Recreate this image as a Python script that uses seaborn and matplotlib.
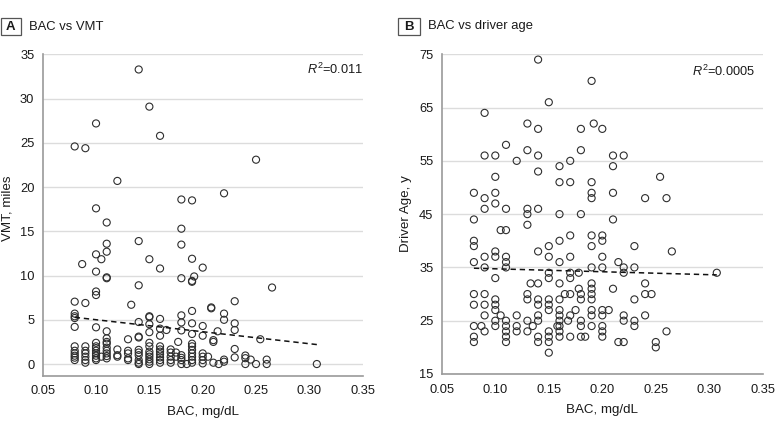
import matplotlib
matplotlib.use("Agg")
import matplotlib.pyplot as plt
from matplotlib.patches import Rectangle
import seaborn as sns

# ---------------- data ----------------
# Panel A: BAC (mg/dL) vs VMT (miles)
bac_a = ([0.08] * 12 + [0.087] + [0.09] * 8 + [0.10] * 15 + [0.105] * 2 +
         [0.11] * 14 + [0.12] * 4 + [0.13] * 5 + [0.133] + [0.14] * 12 +
         [0.15] * 14 + [0.16] * 12 + [0.166] + [0.17] * 5 + [0.175] * 2 +
         [0.177] + [0.18] * 11 + [0.185] + [0.19] * 14 + [0.192] +
         [0.20] * 7 + [0.205] + [0.208] * 2 + [0.21] * 3 + [0.214] + [0.215] +
         [0.22] * 5 + [0.23] * 5 + [0.24] * 3 + [0.245] + [0.25] * 2 +
         [0.254] + [0.26] * 2 + [0.265] + [0.307])
vmt_a = ([24.6, 7.05, 5.7, 5.4, 5.2, 4.2, 2.0, 1.5, 1.2, 0.94, 0.72, 0.45] +
         [11.3] +
         [24.4, 6.9, 2.0, 1.5, 1.2, 0.83, 0.45, 0.15] +
         [27.2, 17.6, 12.4, 10.45, 8.2, 7.8, 4.15, 2.4, 2.0, 1.8, 1.5, 1.2, 0.94, 0.64, 0.45] +
         [11.85, 0.83] +
         [16.0, 13.6, 12.7, 9.8, 9.7, 3.7, 2.9, 2.5, 2.3, 1.85, 1.5, 1.2, 0.9, 0.64] +
         [20.7, 1.65, 1.0, 0.83] +
         [2.8, 1.5, 1.2, 0.64, 0.45] +
         [6.7] +
         [33.3, 13.9, 8.9, 4.75, 3.1, 3.0, 1.6, 1.3, 1.0, 0.45, 0.15, 0.0] +
         [29.1, 11.85, 5.4, 5.3, 4.5, 3.6, 2.4, 2.0, 1.4, 1.1, 0.83, 0.53, 0.26, 0.0] +
         [25.8, 10.8, 5.1, 4.0, 3.2, 2.0, 1.65, 1.4, 1.1, 0.75, 0.45, 0.15] +
         [3.85] +
         [1.65, 1.3, 0.83, 0.45, 0.15] +
         [1.3, 0.83] +
         [2.5] +
         [18.6, 15.3, 13.5, 9.7, 5.5, 4.7, 3.8, 1.0, 0.7, 0.45, 0.0] +
         [0.0] +
         [18.5, 11.9, 9.4, 9.3, 6.0, 4.6, 3.4, 2.3, 2.0, 1.6, 1.2, 0.83, 0.45, 0.15] +
         [9.9] +
         [10.9, 4.3, 3.2, 1.2, 0.83, 0.45, 0.07] +
         [0.83] +
         [6.4, 6.3] +
         [2.7, 2.5, 0.15] +
         [3.7] +
         [0.0] +
         [19.3, 5.7, 5.0, 0.5, 0.26] +
         [7.1, 4.6, 3.85, 1.7, 0.75] +
         [0.96, 0.66, 0.0] +
         [0.5] +
         [23.1, 0.0] +
         [2.8] +
         [0.5, 0.0] +
         [8.65] +
         [0.0])

# Panel B: BAC (mg/dL) vs driver age (y)
bac_b = ([0.08] * 10 + [0.087] + [0.09] * 10 + [0.10] * 12 + [0.105] * 2 +
         [0.11] * 11 + [0.12] * 4 + [0.13] * 9 + [0.133] + [0.135] +
         [0.14] * 13 + [0.15] * 12 + [0.158] + [0.16] * 13 + [0.165] +
         [0.168] + [0.17] * 9 + [0.175] + [0.178] * 2 + [0.18] * 8 +
         [0.184] + [0.19] * 14 + [0.192] + [0.20] * 10 + [0.206] +
         [0.21] * 5 + [0.215] * 2 + [0.22] * 6 + [0.23] * 5 + [0.24] * 4 +
         [0.246] + [0.25] * 2 + [0.254] + [0.26] * 2 + [0.265] + [0.307])
age_b = ([49, 44, 40, 39, 36, 30, 28, 24, 22, 21] +
         [24] +
         [64, 56, 48, 46, 37, 35, 30, 28, 26, 23] +
         [56, 52, 49, 47, 38, 37, 33, 29, 28, 27, 25, 24] +
         [42, 26] +
         [58, 46, 42, 37, 36, 35, 25, 24, 23, 22, 21] +
         [55, 26, 24, 23] +
         [62, 57, 46, 45, 43, 30, 29, 25, 23] +
         [32] +
         [24] +
         [74, 61, 56, 53, 46, 38, 32, 29, 28, 26, 25, 22, 21] +
         [66, 39, 37, 34, 33, 29, 28, 27, 23, 22, 21, 19] +
         [24] +
         [54, 51, 45, 40, 36, 32, 29, 27, 26, 25, 24, 23, 22] +
         [30] +
         [25] +
         [55, 51, 41, 37, 34, 33, 30, 26, 22] +
         [27] +
         [34, 31] +
         [61, 57, 45, 30, 29, 25, 24, 22] +
         [22] +
         [70, 51, 49, 48, 41, 39, 35, 32, 31, 30, 29, 27, 26, 24] +
         [62] +
         [61, 41, 40, 37, 35, 27, 26, 24, 23, 22] +
         [27] +
         [56, 54, 49, 44, 31] +
         [36, 21] +
         [56, 35, 34, 26, 25, 21] +
         [39, 35, 29, 25, 24] +
         [48, 32, 30, 26] +
         [30] +
         [21, 20] +
         [52] +
         [48, 23] +
         [38] +
         [34])

# fitted trend lines (end points)
trend_x = [0.08, 0.307]
trend_a_y = [5.28, 2.2]
trend_b_y = [34.85, 33.6]

x_ticks = [0.05, 0.10, 0.15, 0.20, 0.25, 0.30, 0.35]
x_tick_labels = ["0.05", "0.10", "0.15", "0.20", "0.25", "0.30", "0.35"]
y_ticks_a = [0, 5, 10, 15, 20, 25, 30, 35]
y_ticks_b = [15, 25, 35, 45, 55, 65, 75]

titles = ["BAC vs VMT", "BAC vs driver age"]
panel_letters = ["A", "B"]
r2_labels = [r"$R^{2}$=0.011", r"$R^{2}$=0.0005"]
x_label = "BAC, mg/dL"
y_labels = ["VMT, miles", "Driver Age, y"]

# ---------------- style ----------------
sns.set_style("white")
plt.rcParams["font.family"] = ["Liberation Sans", "DejaVu Sans"]
plt.rcParams["mathtext.fontset"] = "custom"
plt.rcParams["mathtext.rm"] = "Liberation Sans"
plt.rcParams["mathtext.it"] = "Liberation Sans:italic"

W, H = 780, 434
fig = plt.figure(figsize=(W / 100, H / 100), dpi=100)
fig.patch.set_facecolor("white")

axA = fig.add_axes([42.7 / W, 1 - 375.7 / H, 320 / W, (375.7 - 54) / H])
axB = fig.add_axes([441.8 / W, 1 - 374 / H, 321 / W, (374 - 54) / H])

spine_c = "#9a9a9a"
grid_c = "#dcdcdc"
text_c = "#1a1a1a"

for ax, xs, ys, ty, yt, ylim in [
    (axA, bac_a, vmt_a, trend_a_y, y_ticks_a, (-1.32, 35.05)),
    (axB, bac_b, age_b, trend_b_y, y_ticks_b, (15, 75.05)),
]:
    sns.scatterplot(x=xs, y=ys, ax=ax, s=26, marker="o", color="#2e2e2e",
                    edgecolor="#2e2e2e", linewidth=0.8, zorder=3, legend=False)
    for coll in ax.collections:
        coll.set_facecolor("none")
        coll.set_edgecolor("#2e2e2e")
    sns.lineplot(x=trend_x, y=ty, ax=ax, color="#111111", linewidth=1.1,
                 linestyle=(0, (3.5, 2.5)), zorder=4, legend=False)
    ax.set_xlim(0.05, 0.35)
    ax.set_ylim(*ylim)
    ax.set_xticks(x_ticks)
    ax.set_xticklabels(x_tick_labels)
    ax.set_yticks(yt)
    ax.yaxis.grid(True, color=grid_c, linewidth=1.0, zorder=0)
    ax.xaxis.grid(False)
    ax.set_axisbelow(True)
    for s in ["top", "right"]:
        ax.spines[s].set_visible(False)
    for s in ["left", "bottom"]:
        ax.spines[s].set_color(spine_c)
        ax.spines[s].set_linewidth(1.2)
    ax.tick_params(axis="both", direction="out", length=4, width=1.0,
                   color=spine_c, labelcolor=text_c, labelsize=9.3, pad=2)
    ax.tick_params(axis="x", pad=3)

for ax, yl in zip([axA, axB], y_labels):
    ax.set_xlabel(x_label, fontsize=9.6, color=text_c)
    ax.set_ylabel(yl, fontsize=9.6, color=text_c)
    ax.xaxis.set_label_coords(0.5, -0.113)
    ax.xaxis.label.set_va("center")

axA.yaxis.set_label_coords((7.5 - 42.7) / 320, 0.52)
axB.yaxis.set_label_coords((406 - 441.8) / 321, 0.5)
axA.yaxis.label.set_va("center")
axB.yaxis.label.set_va("center")

axA.text(1.0, (375.7 - 69) / (375.7 - 54), r2_labels[0], transform=axA.transAxes,
         ha="right", va="center", fontsize=9.2, color=text_c)
axB.text((755 - 441.8) / 321, (374 - 71) / 320, r2_labels[1], transform=axB.transAxes,
         ha="right", va="center", fontsize=9.2, color=text_c)

# panel headers
for (bx0, bx1), letter, title, tx in [((1, 20.7), panel_letters[0], titles[0], 29),
                                       ((398.3, 420), panel_letters[1], titles[1], 427.7)]:
    fig.patches.append(Rectangle((bx0 / W, 1 - 35 / H), (bx1 - bx0) / W, 16.7 / H,
                                 transform=fig.transFigure, facecolor="white",
                                 edgecolor="#555555", linewidth=0.9))
    fig.text((bx0 + bx1) / 2 / W, 1 - 26.7 / H, letter, ha="center", va="center",
             fontsize=9.5, fontweight="bold", color=text_c)
    fig.text(tx / W, 1 - 26.5 / H, title, ha="left", va="center", fontsize=9.4,
             color=text_c)

fig.savefig("out.png", dpi=100, facecolor="white")
